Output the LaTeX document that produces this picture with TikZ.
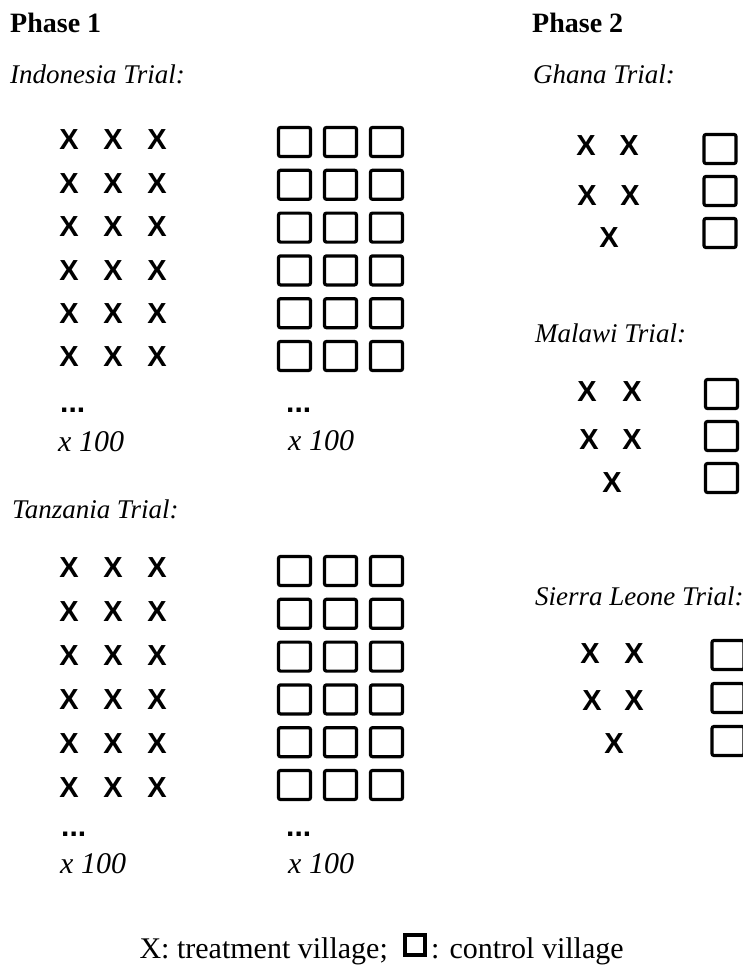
\documentclass[tikz,border=0pt]{standalone}
\usepackage{fontspec}
\setmainfont{Liberation Serif}
\setsansfont{Liberation Sans}

\begin{document}
\begin{tikzpicture}[x=1pt, y=-1pt,
    phase/.style={font=\fontsize{28}{30}\selectfont\bfseries, anchor=base west, inner sep=0pt},
    trial/.style={font=\fontsize{27}{30}\selectfont\itshape, anchor=base west, inner sep=0pt},
    treat/.style={font=\fontsize{29}{30}\selectfont\sffamily\bfseries, inner sep=0pt},
    ctrl/.style={rectangle, rounded corners=2pt, draw=black, line width=3.2pt,
                 minimum width=32pt, minimum height=29pt, inner sep=0pt},
    dots/.style={font=\fontsize{30}{30}\selectfont\sffamily\bfseries, anchor=base west, inner sep=0pt},
    times/.style={font=\fontsize{30}{32}\selectfont\itshape, anchor=base west, inner sep=0pt},
    legend/.style={font=\fontsize{30}{32}\selectfont, inner sep=0pt}]

    \useasboundingbox (0,0) rectangle (743,966);

    % faza 1
    \node (ph1)  [phase] at (10,33)  {Phase 1};
    \node (indo) [trial] at (10,83)  {Indonesia Trial:};
    \node (tanz) [trial] at (12,518) {Tanzania Trial:};

    \foreach \r in {0,...,5} {
        \foreach \c in {0,1,2} {
            \node (ix-\r-\c) [treat] at ({69+44*\c}, {140+43.4*\r}) {X};
            \node (ic-\r-\c) [ctrl]  at ({294.5+46*\c}, {142+42.8*\r}) {};
            \node (tx-\r-\c) [treat] at ({69+44*\c}, {568+44*\r}) {X};
            \node (tc-\r-\c) [ctrl]  at ({294.5+46*\c}, {571+42.8*\r}) {};
        }
    }

    \node (idx) [dots]  at (60,412)  {...};
    \node (idc) [dots]  at (286,412) {...};
    \node (inx) [times] at (58,451)  {x 100};
    \node (inc) [times] at (288,450) {x 100};
    \node (tdx) [dots]  at (61,836)  {...};
    \node (tdc) [dots]  at (286,836) {...};
    \node (tnx) [times] at (60,873)  {x 100};
    \node (tnc) [times] at (288,873) {x 100};

    % faza 2
    \node (ph2)  [phase] at (532,33)  {Phase 2};
    \node (ghan) [trial] at (533,83)  {Ghana Trial:};
    \node (mala) [trial] at (535,342) {Malawi Trial:};
    \node (sier) [trial] at (535,605) {Sierra Leone Trial:};

    \node (gx1) [treat] at (586,146) {X};
    \node (gx2) [treat] at (629,146) {X};
    \node (gx3) [treat] at (587,196) {X};
    \node (gx4) [treat] at (630,196) {X};
    \node (gx5) [treat] at (609,238) {X};
    \node (gc1) [ctrl]  at (720,149) {};
    \node (gc2) [ctrl]  at (720,191) {};
    \node (gc3) [ctrl]  at (720,233) {};

    \node (mx1) [treat] at (587,392) {X};
    \node (mx2) [treat] at (632,392) {X};
    \node (mx3) [treat] at (589,440) {X};
    \node (mx4) [treat] at (632,440) {X};
    \node (mx5) [treat] at (612,483) {X};
    \node (mc1) [ctrl]  at (721.5,394) {};
    \node (mc2) [ctrl]  at (721.5,436) {};
    \node (mc3) [ctrl]  at (721.5,478) {};

    \node (sx1) [treat] at (590,654) {X};
    \node (sx2) [treat] at (634,654) {X};
    \node (sx3) [treat] at (592,701) {X};
    \node (sx4) [treat] at (634,701) {X};
    \node (sx5) [treat] at (614,744) {X};
    \node (sc1) [ctrl]  at (728,655) {};
    \node (sc2) [ctrl]  at (728,698) {};
    \node (sc3) [ctrl]  at (728,741) {};

    % legenda
    \node (leg1)  [legend, anchor=base east] at (388,958) {X: treatment village;};
    \node (legsq) [ctrl, line width=4pt, rounded corners=0pt, minimum width=20pt, minimum height=20pt] at (415,945) {};
    \node (leg2)  [legend, anchor=base west] at (431,958) {: control village};
\end{tikzpicture}
\end{document}
